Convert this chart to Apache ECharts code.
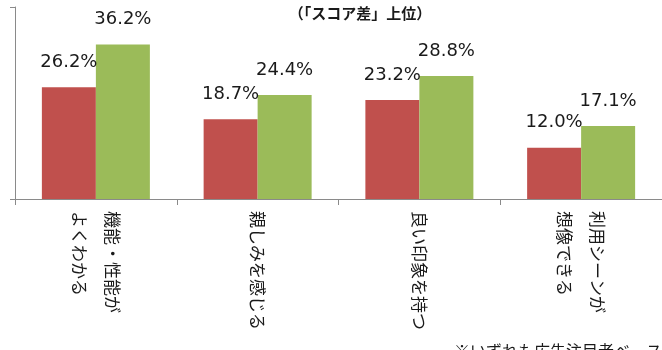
<!DOCTYPE html>
<html>
<head>
<meta charset="utf-8">
<script src="https://cdn.jsdelivr.net/npm/echarts@6/dist/echarts.min.js"></script>
<style>
  html, body { margin: 0; padding: 0; background: #fff; }
  #chart { width: 662px; height: 350px; }
</style>
</head>
<body>
<div id="chart"></div>
<script>
// Categories (two-line labels use a newline)
const categories = [
  '機能・性能が\nよくわかる',
  '親しみを感じる',
  '良い印象を持つ',
  '利用シーンが\n想像できる'
];
// Scores of the two groups, in percent
const redValues = [26.2, 18.7, 23.2, 12.0];
const greenValues = [36.2, 24.4, 28.8, 17.1];
const titleText = '（「スコア差」上位）';
const noteText = '※いずれも広告注目者ベース';
const yMax = 45;

const chart = echarts.init(document.getElementById('chart'), null, { renderer: 'canvas' });

const labelStyle = {
  show: true,
  position: 'top',
  distance: 16,
  fontFamily: 'DejaVu Sans',
  fontSize: 18,
  color: '#1a1a1a',
  formatter: p => p.value.toFixed(1) + '%'
};

chart.setOption({
  animation: false,
  backgroundColor: '#ffffff',
  title: [
    {
      text: titleText,
      left: 355,
      top: 1,
      textAlign: 'center',
      textStyle: { fontFamily: 'Noto Sans CJK JP', fontWeight: 'bold', fontSize: 15, color: '#1a1a1a', lineHeight: 15 }
    },
    {
      text: noteText,
      left: 449,
      top: 338,
      textStyle: { fontFamily: 'Noto Sans CJK JP', fontWeight: 'normal', fontSize: 16, color: '#1a1a1a', lineHeight: 16 }
    }
  ],
  grid: { left: 15, top: 7, width: 648, bottom: 151, containLabel: false },
  xAxis: {
    type: 'category',
    data: categories,
    boundaryGap: true,
    axisLine: { show: true, lineStyle: { color: '#8a8a8a', width: 1 } },
    axisTick: { show: true, length: 6, lineStyle: { color: '#8a8a8a' } },
    axisLabel: {
      rotate: -90,
      margin: 12,
      interval: 0,
      fontFamily: 'Noto Sans CJK JP',
      fontSize: 17,
      lineHeight: 33,
      color: '#1a1a1a'
    },
    splitLine: { show: false }
  },
  yAxis: {
    type: 'value',
    min: 0,
    max: yMax,
    interval: yMax,
    axisLine: { show: true, lineStyle: { color: '#8a8a8a', width: 1 } },
    axisTick: { show: true, length: 5, lineStyle: { color: '#8a8a8a' } },
    axisLabel: { show: false },
    splitLine: { show: false }
  },
  series: [
    {
      type: 'bar',
      data: redValues,
      barWidth: 54,
      barGap: '0%',
      itemStyle: { color: '#C0504D' },
      label: labelStyle
    },
    {
      type: 'bar',
      data: greenValues,
      barWidth: 54,
      barGap: '0%',
      itemStyle: { color: '#9BBB59' },
      label: labelStyle
    }
  ]
});
</script>
</body>
</html>
